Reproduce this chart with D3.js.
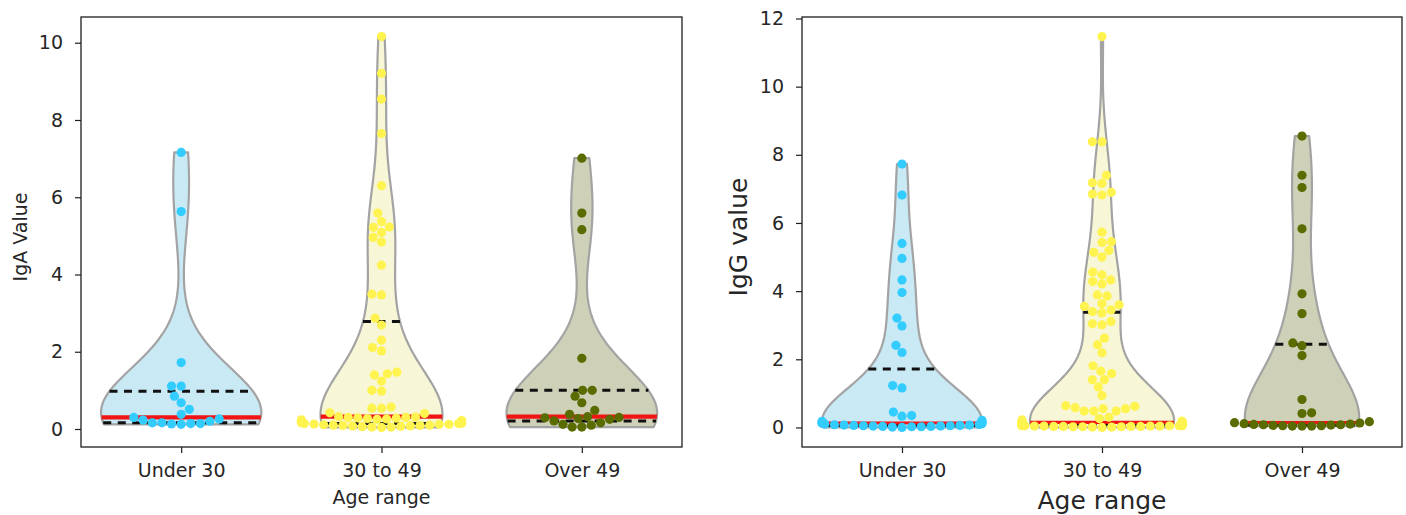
<!DOCTYPE html>
<html>
<head>
<meta charset="utf-8">
<script src="https://cdn.jsdelivr.net/npm/d3@7"></script>
<style>
  body { margin: 0; background: #fff; }
  svg { display: block; font-family: "DejaVu Sans", sans-serif; }
</style>
</head>
<body>
<svg id="chart" width="1406" height="515"></svg>
<script>
// ---- data ----
const groups = ["Under 30", "30 to 49", "Over 49"];
const pointColors = ["#33ccff", "#fff350", "#5a6b00"];
const violinFills = ["#c9e9f5", "#f7f6d6", "#ced1b7"];

const igaUnder30 = [7.16, 5.63, 1.72, 1.11, 1.11, 0.85, 0.68, 0.51, 0.38, 0.30,
  0.26, 0.23, 0.20, 0.16, 0.16, 0.14, 0.14, 0.13, 0.12];
const iga30to49 = [10.16, 9.21, 8.54, 7.65, 6.30, 5.59, 5.37, 5.23, 5.22, 5.09,
  4.96, 4.84, 4.24, 3.49, 3.47, 2.87, 2.69, 2.30, 2.11, 2.02, 1.47, 1.43, 1.40,
  1.24, 1.00, 0.98, 0.57, 0.54, 0.54, 0.42, 0.40, 0.32, 0.31, 0.30, 0.30, 0.29,
  0.28, 0.27, 0.26, 0.25, 0.24, 0.22, 0.20, 0.18, 0.16, 0.15, 0.14, 0.14, 0.13,
  0.12, 0.12, 0.11, 0.10, 0.10, 0.09, 0.09, 0.08, 0.08, 0.07, 0.06, 0.05, 0.05, 0.04];
const igaOver49 = [7.01, 5.59, 5.16, 1.83, 1.00, 1.00, 0.85, 0.68, 0.48, 0.38,
  0.32, 0.30, 0.29, 0.27, 0.25, 0.21, 0.16, 0.12, 0.10, 0.05, 0.05];

const iggUnder30 = [7.73, 6.82, 5.40, 4.96, 4.33, 3.96, 3.21, 2.98, 2.41, 2.20,
  1.23, 1.16, 0.45, 0.35, 0.33, 0.21, 0.18, 0.16, 0.14, 0.13, 0.12, 0.11, 0.10,
  0.09, 0.08, 0.07, 0.07, 0.06, 0.06, 0.05, 0.05, 0.04, 0.04, 0.03, 0.03, 0.02,
  0.02, 0.01, 0.00];
const igg30to49 = [11.47, 8.38, 8.38, 7.40, 7.18, 7.16, 6.90, 6.85, 6.82, 5.73,
  5.45, 5.43, 5.19, 5.14, 5.00, 4.56, 4.48, 4.33, 4.28, 4.21, 3.89, 3.86, 3.63,
  3.60, 3.55, 3.45, 3.40, 3.36, 3.11, 3.04, 3.01, 2.62, 2.43, 2.19, 1.81, 1.65,
  1.58, 1.40, 1.40, 1.19, 0.94, 0.64, 0.62, 0.58, 0.55, 0.55, 0.48, 0.48, 0.48,
  0.30, 0.26, 0.22, 0.19, 0.15, 0.15, 0.15, 0.15, 0.14, 0.14, 0.14, 0.13, 0.13,
  0.13, 0.12, 0.12, 0.12, 0.11, 0.11, 0.11, 0.10, 0.10, 0.10, 0.10, 0.09, 0.09,
  0.09, 0.08, 0.08, 0.08, 0.08, 0.07, 0.07, 0.07, 0.07, 0.06, 0.06, 0.06, 0.06,
  0.05, 0.05, 0.05, 0.05, 0.05, 0.04, 0.04, 0.04, 0.04, 0.03, 0.03, 0.03, 0.03,
  0.02, 0.02, 0.02, 0.01, 0.01, 0.00];
const iggOver49 = [8.55, 7.40, 7.04, 5.83, 3.92, 3.34, 2.48, 2.40, 2.11, 0.82,
  0.43, 0.41, 0.17, 0.14, 0.13, 0.11, 0.10, 0.09, 0.08, 0.08, 0.07, 0.06, 0.05,
  0.05, 0.04, 0.04, 0.04];

const igaTicks = [0, 2, 4, 6, 8, 10];
const iggTicks = [0, 2, 4, 6, 8, 10, 12];

// ---- panel setup ----
const panels = [
  {
    series: [igaUnder30, iga30to49, igaOver49], ticks: igaTicks,
    box: { left: 81, right: 682, top: 17, bottom: 447 },
    yLabel: "IgA Value", yLabelSize: 19, yLabelX: 27,
    xLabel: "Age range", xLabelSize: 19, xLabelY: 504,
    tickSize: 19, medianWidth: 4.2
  },
  {
    series: [iggUnder30, igg30to49, iggOver49], ticks: iggTicks,
    box: { left: 802, right: 1402, top: 17, bottom: 447 },
    yLabel: "IgG value", yLabelSize: 25, yLabelX: 747,
    xLabel: "Age range", xLabelSize: 25, xLabelY: 509,
    tickSize: 19, medianWidth: 3.2
  }
];

const svg = d3.select("#chart");
const R = 4.6;          // swarm marker radius
const textColor = "#262626";

// Gaussian KDE with Scott's bandwidth, evaluated between the data extremes
function scottKde(values, n = 100) {
  const lo = d3.min(values), hi = d3.max(values);
  const bw = d3.deviation(values) * Math.pow(values.length, -0.2);
  const norm = 1 / (values.length * bw * Math.sqrt(2 * Math.PI));
  return d3.range(n).map(i => {
    const y = lo + (hi - lo) * i / (n - 1);
    return { y, d: norm * d3.sum(values, v => Math.exp(-0.5 * ((y - v) / bw) ** 2)) };
  });
}

function densityAt(curve, v) {
  const ys = curve.map(c => c.y);
  const i = d3.bisectLeft(ys, v);
  if (i <= 0) return curve[0].d;
  if (i >= curve.length) return curve[curve.length - 1].d;
  const a = curve[i - 1], b = curve[i];
  return a.d + (b.d - a.d) * (v - a.y) / (b.y - a.y);
}

// Beeswarm placement in pixel space (lowest values placed first, nearest the midline)
function beeswarm(center, pys, r, half) {
  const placed = [];
  for (const py of pys) {
    const neighbors = [];
    for (let k = placed.length - 1; k >= 0; k--) {
      if (placed[k].py - py < 2 * r) neighbors.unshift(placed[k]);
      else break;
    }
    const cands = [{ x: center, py }];
    let leftFirst = true;
    for (const nb of neighbors) {
      const dy = nb.py - py;
      const dx = Math.sqrt(Math.max(4 * r * r - dy * dy, 0)) * 1.05;
      const cl = { x: nb.x - dx, py }, cr = { x: nb.x + dx, py };
      if (leftFirst) cands.push(cl, cr); else cands.push(cr, cl);
      leftFirst = !leftFirst;
    }
    const order = cands.map((c, i) => i)
      .sort((a, b) => (Math.abs(cands[a].x - center) - Math.abs(cands[b].x - center)) || (a - b));
    let chosen = cands[order[0]];
    for (const i of order) {
      const c = cands[i];
      const ok = neighbors.every(nb => (nb.x - c.x) ** 2 + (nb.py - c.py) ** 2 >= 4 * r * r - 1e-6);
      if (ok) { chosen = c; break; }
    }
    placed.push({ x: chosen.x, py: chosen.py });
  }
  // gutters: points that overflow the slot are clipped to its edge
  return placed.map(p => ({ x: Math.max(center - half, Math.min(center + half, p.x)), py: p.py }));
}

panels.forEach(p => {
  const g = svg.append("g");
  const b = p.box;
  const all = p.series.flat();
  const lo = d3.min(all), hi = d3.max(all);
  const pad = (hi - lo) * 0.05;

  const y = d3.scaleLinear().domain([lo - pad, hi + pad]).range([b.bottom, b.top]);
  const x = d3.scalePoint().domain(groups).range([b.left, b.right]).padding(0.5);
  const step = x.step();
  const maxHalf = 0.4 * step;

  const curves = p.series.map(s => scottKde(s));
  const globalMax = d3.max(curves, c => d3.max(c, e => e.d));
  const halfW = d => d / globalMax * maxHalf;

  // violins
  p.series.forEach((s, gi) => {
    const cx = x(groups[gi]);
    const c = curves[gi];
    const pts = c.map(e => [cx + halfW(e.d), y(e.y)])
      .concat(c.slice().reverse().map(e => [cx - halfW(e.d), y(e.y)]));
    g.append("path")
      .attr("d", d3.line()(pts) + "Z")
      .attr("fill", violinFills[gi])
      .attr("stroke", "#a3a3a3")
      .attr("stroke-width", 2.2)
      .attr("stroke-linejoin", "round");
  });

  // quartile lines (dashed) and median (red), spanning the violin at each level
  p.series.forEach((s, gi) => {
    const cx = x(groups[gi]);
    const sorted = s.slice().sort(d3.ascending);
    const q1 = d3.quantileSorted(sorted, 0.25);
    const med = d3.quantileSorted(sorted, 0.5);
    const q3 = d3.quantileSorted(sorted, 0.75);
    [q1, q3].forEach(q => {
      const w = halfW(densityAt(curves[gi], q));
      g.append("line")
        .attr("x1", cx - w).attr("x2", cx + w)
        .attr("y1", y(q)).attr("y2", y(q))
        .attr("stroke", "#111").attr("stroke-width", 3)
        .attr("stroke-dasharray", "8,6.5");
    });
    const wm = halfW(densityAt(curves[gi], med));
    g.append("line")
      .attr("x1", cx - wm).attr("x2", cx + wm)
      .attr("y1", y(med)).attr("y2", y(med))
      .attr("stroke", "#f01414").attr("stroke-width", p.medianWidth);
  });

  // swarm points
  p.series.forEach((s, gi) => {
    const cx = x(groups[gi]);
    const sorted = s.slice().sort(d3.ascending);
    const placed = beeswarm(cx, sorted.map(v => y(v)), R, maxHalf);
    g.append("g").selectAll("circle").data(placed).join("circle")
      .attr("cx", d => d.x).attr("cy", d => d.py).attr("r", R)
      .attr("fill", pointColors[gi]);
  });

  // frame
  g.append("rect")
    .attr("x", b.left).attr("y", b.top)
    .attr("width", b.right - b.left).attr("height", b.bottom - b.top)
    .attr("fill", "none").attr("stroke", "#1e1e1e").attr("stroke-width", 1.3);

  // axes
  const yAxis = g.append("g").attr("transform", `translate(${b.left},0)`)
    .call(d3.axisLeft(y).tickValues(p.ticks).tickSize(6).tickPadding(12));
  const xAxis = g.append("g").attr("transform", `translate(0,${b.bottom})`)
    .call(d3.axisBottom(x).tickSize(6).tickPadding(11));
  [yAxis, xAxis].forEach(a => {
    a.select(".domain").remove();
    a.selectAll(".tick line").attr("stroke", "#1e1e1e").attr("stroke-width", 1.2);
    a.selectAll(".tick text").attr("fill", textColor)
      .style("font-size", p.tickSize + "px")
      .style("font-family", "DejaVu Sans, sans-serif");
  });

  // axis titles
  g.append("text")
    .attr("transform", `translate(${p.yLabelX},${(b.top + b.bottom) / 2 + 5}) rotate(-90)`)
    .attr("text-anchor", "middle")
    .attr("fill", textColor)
    .style("font-size", p.yLabelSize + "px")
    .text(p.yLabel);
  g.append("text")
    .attr("x", (b.left + b.right) / 2).attr("y", p.xLabelY)
    .attr("text-anchor", "middle")
    .attr("fill", textColor)
    .style("font-size", p.xLabelSize + "px")
    .text(p.xLabel);
});
</script>
</body>
</html>
